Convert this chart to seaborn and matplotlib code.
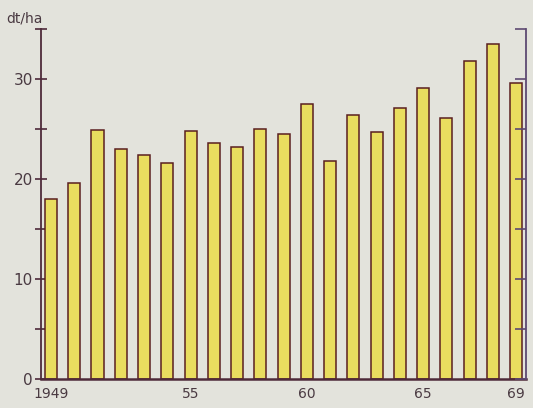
import numpy as np
import pandas as pd
import matplotlib
matplotlib.use("Agg")
import matplotlib.pyplot as plt
import seaborn as sns

# data (yield, dt/ha)
years = [str(y) for y in range(1949, 1970)]
yields = [18.0, 19.6, 24.9, 23.0, 22.4, 21.6, 24.8, 23.6, 23.2, 25.0, 24.5,
          27.5, 21.8, 26.4, 24.7, 27.1, 29.1, 26.1, 31.8, 33.5, 29.6]
tick_pos = [0, 6, 11, 16, 20]
tick_labels = ["1949", "55", "60", "65", "69"]

bg = "#e3e3dc"
axis_col = "#4e2a3a"
right_col = "#5e4a72"
text_col = "#4a3a42"
bar_fill = "#e9dd5f"
bar_edge = "#5a1f1f"

sns.set_style("white")
plt.rcParams["font.family"] = ["DejaVu Sans"]

df = pd.DataFrame({"year": years, "value": yields})

fig = plt.figure(figsize=(5.33, 4.08), dpi=100, facecolor=bg)
ax = fig.add_axes([0.077, 0.071, 0.910, 0.858])
ax.set_facecolor(bg)

sns.barplot(data=df, x="year", y="value", order=years, color=bar_fill,
            width=0.52, edgecolor=bar_edge, linewidth=1.1, saturation=1, ax=ax)

ax.set_xlim(-0.43, 20.43)
ax.set_ylim(0, 35)
ax.set_xlabel("")
ax.set_ylabel("")

# left axis
ax.set_yticks([0, 10, 20, 30])
ax.set_yticks([5, 15, 25, 35], minor=True)
ax.tick_params(axis="y", which="both", direction="inout", length=8, width=1.2,
               color=axis_col, labelcolor=text_col, labelsize=11, pad=2)
ax.set_xticks(tick_pos)
ax.set_xticklabels(tick_labels)
ax.tick_params(axis="x", length=0, labelcolor=text_col, labelsize=10, pad=6)

ax.spines["top"].set_visible(False)
ax.spines["right"].set_visible(False)
for s in ["left", "bottom"]:
    ax.spines[s].set_color(axis_col)
ax.spines["left"].set_linewidth(1.3)
ax.spines["bottom"].set_linewidth(1.8)

# right axis ticks pointing inward
ax2 = ax.twinx()
ax2.set_ylim(0, 35)
ax2.set_yticks(np.arange(0, 36, 5))
ax2.tick_params(axis="y", direction="in", length=8, width=1.2, color=right_col,
                labelright=False)
for s in ["top", "left", "bottom"]:
    ax2.spines[s].set_visible(False)
ax2.spines["right"].set_color(right_col)
ax2.spines["right"].set_linewidth(1.3)

fig.text(0.012, 0.955, "dt/ha", color=text_col, fontsize=10, va="center")

fig.savefig("out.png", dpi=100, facecolor=bg)
